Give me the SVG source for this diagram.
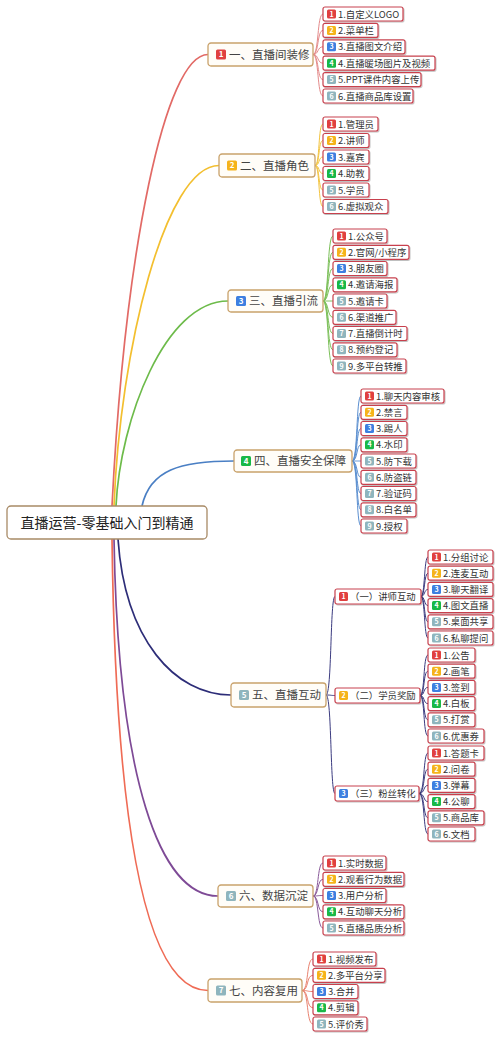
<svg xmlns="http://www.w3.org/2000/svg" width="500" height="1038" viewBox="0 0 500 1038">
<defs>
<filter id="sh" x="-10%" y="-20%" width="120%" height="150%"><feDropShadow dx="0.8" dy="1" stdDeviation="0.7" flood-color="#000" flood-opacity="0.25"/></filter>
</defs>
<style>
text{font-family:"Noto Sans CJK SC","Noto Sans",sans-serif}
.lb{fill:#fff;stroke:#c8414e;stroke-width:1.2;filter:url(#sh)}
.sb{fill:#fffdf8;stroke:#c9a26b;stroke-width:1.3}
.rb{fill:#fff;stroke:#a88a66;stroke-width:1.3}
.t{font-size:9.4px;fill:#333}
.st{font-size:11.5px;fill:#444}
.rt{font-size:14px;fill:#222;text-anchor:middle}
.n{font-size:7px;fill:#fff;text-anchor:middle;font-weight:bold}
.sn{font-size:8px;fill:#fff;text-anchor:middle;font-weight:bold}
.k1{fill:#e0403f}.k2{fill:#f5b31a}.k3{fill:#3d7fe0}.k4{fill:#19b847}.k5{fill:#8fb5bd}
path{fill:none}
.r1{stroke:#e26a66;stroke-width:1.7}.f1{stroke:#e48a8a;stroke-width:1}
.r2{stroke:#f3bf2f;stroke-width:1.7}.f2{stroke:#f3c440;stroke-width:1}
.r3{stroke:#6dbb4a;stroke-width:1.7}.f3{stroke:#7cc05a;stroke-width:1}
.r4{stroke:#4a7fc4;stroke-width:1.7}.f4{stroke:#5b8fd0;stroke-width:1}
.r5{stroke:#2d2d78;stroke-width:1.7}.f5{stroke:#3b3b80;stroke-width:1}
.r6{stroke:#7e4a96;stroke-width:1.7}.f6{stroke:#8a5a9a;stroke-width:1}
.r7{stroke:#ef6b55;stroke-width:1.7}.f7{stroke:#e9826f;stroke-width:1}
</style>
<rect width="500" height="1038" fill="#fff"/>
<g id="connectors">
<path class="r1" d="M112 506 C125 250 165 54.5 208 54.5"/>
<path class="r2" d="M114 506 C120 350 165 165.5 219 165.5"/>
<path class="r3" d="M116 506 C120 420 165 301 228 301"/>
<path class="r4" d="M142 506 C150 470 180 461 234 461"/>
<path class="r5" d="M118 539 C125 640 175 695 231 695"/>
<path class="r6" d="M114 539 C118 780 160 896 218 896"/>
<path class="r7" d="M112 539 C116 850 150 990.5 208 990.5"/>
<g class="f1">
<path d="M313 54.5 C319 54.5 317 14 323 14"/><path d="M313 54.5 C319 54.5 317 30.4 323 30.4"/><path d="M313 54.5 C319 54.5 317 46.8 323 46.8"/><path d="M313 54.5 C319 54.5 317 63.2 323 63.2"/><path d="M313 54.5 C319 54.5 317 79.6 323 79.6"/><path d="M313 54.5 C319 54.5 317 96 323 96"/>
</g>
<g class="f2">
<path d="M315 165.5 C320 165.5 318 124 323 124"/><path d="M315 165.5 C320 165.5 318 140.5 323 140.5"/><path d="M315 165.5 C320 165.5 318 157 323 157"/><path d="M315 165.5 C320 165.5 318 173.5 323 173.5"/><path d="M315 165.5 C320 165.5 318 190 323 190"/><path d="M315 165.5 C320 165.5 318 206.5 323 206.5"/>
</g>
<g class="f3">
<path d="M323 301 C329 301 327 236 333 236"/><path d="M323 301 C329 301 327 252.3 333 252.3"/><path d="M323 301 C329 301 327 268.5 333 268.5"/><path d="M323 301 C329 301 327 284.8 333 284.8"/><path d="M323 301 C329 301 327 301 333 301"/><path d="M323 301 C329 301 327 317.3 333 317.3"/><path d="M323 301 C329 301 327 333.5 333 333.5"/><path d="M323 301 C329 301 327 349.8 333 349.8"/><path d="M323 301 C329 301 327 366 333 366"/>
</g>
<g class="f4">
<path d="M352 461 C358 461 356 396 361 396"/><path d="M352 461 C358 461 356 412.3 361 412.3"/><path d="M352 461 C358 461 356 428.5 361 428.5"/><path d="M352 461 C358 461 356 444.8 361 444.8"/><path d="M352 461 C358 461 356 461 361 461"/><path d="M352 461 C358 461 356 477.3 361 477.3"/><path d="M352 461 C358 461 356 493.5 361 493.5"/><path d="M352 461 C358 461 356 509.8 361 509.8"/><path d="M352 461 C358 461 356 526 361 526"/>
</g>
<g class="f5">
<path d="M326 695 C332 695 330 596.5 335 596.5"/><path d="M326 695 C332 695 330 695.5 335 695.5"/><path d="M326 695 C332 695 330 793.5 335 793.5"/>
<path d="M421 596.5 C425 596.5 424 557 428 557"/><path d="M421 596.5 C425 596.5 424 573.2 428 573.2"/><path d="M421 596.5 C425 596.5 424 589.4 428 589.4"/><path d="M421 596.5 C425 596.5 424 605.6 428 605.6"/><path d="M421 596.5 C425 596.5 424 621.8 428 621.8"/><path d="M421 596.5 C425 596.5 424 638 428 638"/>
<path d="M420 695.5 C425 695.5 423 655 428 655"/><path d="M420 695.5 C425 695.5 423 671.2 428 671.2"/><path d="M420 695.5 C425 695.5 423 687.4 428 687.4"/><path d="M420 695.5 C425 695.5 423 703.6 428 703.6"/><path d="M420 695.5 C425 695.5 423 719.8 428 719.8"/><path d="M420 695.5 C425 695.5 423 736 428 736"/>
<path d="M419 793.5 C425 793.5 423 753 428 753"/><path d="M419 793.5 C425 793.5 423 769.2 428 769.2"/><path d="M419 793.5 C425 793.5 423 785.4 428 785.4"/><path d="M419 793.5 C425 793.5 423 801.6 428 801.6"/><path d="M419 793.5 C425 793.5 423 817.8 428 817.8"/><path d="M419 793.5 C425 793.5 423 834 428 834"/>
</g>
<g class="f6">
<path d="M313 896 C319 896 317 863 323 863"/><path d="M313 896 C319 896 317 879.3 323 879.3"/><path d="M313 896 C319 896 317 895.5 323 895.5"/><path d="M313 896 C319 896 317 911.8 323 911.8"/><path d="M313 896 C319 896 317 928 323 928"/>
</g>
<g class="f7">
<path d="M302 990.5 C309 990.5 306 959 313 959"/><path d="M302 990.5 C309 990.5 306 975.3 313 975.3"/><path d="M302 990.5 C309 990.5 306 991.5 313 991.5"/><path d="M302 990.5 C309 990.5 306 1007.8 313 1007.8"/><path d="M302 990.5 C309 990.5 306 1024 313 1024"/>
</g>
</g>
<g id="root"><rect class="rb" x="7" y="506" width="200" height="33" rx="4"/><text class="rt" x="107" y="527.5">直播运营-零基础入门到精通</text></g>
<g id="s1" transform="translate(208,43)"><rect class="sb" width="105" height="23" rx="3"/><rect class="k1" x="8" y="6.5" width="10" height="10" rx="1.5"/><text class="sn" x="13" y="14.3">1</text><text class="st" x="21" y="15.5">一、直播间装修</text></g>
<g id="s2" transform="translate(219,154)"><rect class="sb" width="96" height="23" rx="3"/><rect class="k2" x="8" y="6.5" width="10" height="10" rx="1.5"/><text class="sn" x="13" y="14.3">2</text><text class="st" x="21" y="15.5">二、直播角色</text></g>
<g id="s3" transform="translate(228,290)"><rect class="sb" width="95" height="22" rx="3"/><rect class="k3" x="8" y="6" width="10" height="10" rx="1.5"/><text class="sn" x="13" y="13.8">3</text><text class="st" x="21" y="15">三、直播引流</text></g>
<g id="s4" transform="translate(234,450)"><rect class="sb" width="118" height="22" rx="3"/><rect class="k4" x="7" y="6" width="10" height="10" rx="1.5"/><text class="sn" x="12" y="13.8">4</text><text class="st" x="20" y="15">四、直播安全保障</text></g>
<g id="s5" transform="translate(231,683)"><rect class="sb" width="95" height="24" rx="3"/><rect class="k5" x="8" y="7" width="10" height="10" rx="1.5"/><text class="sn" x="13" y="14.8">5</text><text class="st" x="21" y="16">五、直播互动</text></g>
<g id="s6" transform="translate(218,885)"><rect class="sb" width="95" height="22" rx="3"/><rect class="k5" x="8" y="6" width="10" height="10" rx="1.5"/><text class="sn" x="13" y="13.8">6</text><text class="st" x="21" y="15">六、数据沉淀</text></g>
<g id="s7" transform="translate(208,979)"><rect class="sb" width="94" height="23" rx="3"/><rect class="k5" x="8" y="6.5" width="10" height="10" rx="1.5"/><text class="sn" x="13" y="14.3">7</text><text class="st" x="21" y="15.5">七、内容复用</text></g>
<g id="s5-1" transform="translate(335,589)"><rect class="lb" width="86" height="15" rx="2"/><rect class="k1" x="4" y="3" width="9" height="9" rx="1.5"/><text class="n" x="8.5" y="10.2">1</text><text class="t" x="15" y="11.2">（一）讲师互动</text></g>
<g id="s5-2" transform="translate(335,688)"><rect class="lb" width="85" height="15" rx="2"/><rect class="k2" x="4" y="3" width="9" height="9" rx="1.5"/><text class="n" x="8.5" y="10.2">2</text><text class="t" x="15" y="11.2">（二）学员奖励</text></g>
<g id="s5-3" transform="translate(335,786)"><rect class="lb" width="84" height="15" rx="2"/><rect class="k3" x="4" y="3" width="9" height="9" rx="1.5"/><text class="n" x="8.5" y="10.2">3</text><text class="t" x="15" y="11.2">（三）粉丝转化</text></g>
<g id="l1-1" transform="translate(323,7)"><rect class="lb" width="80" height="14" rx="2"/><rect class="k1" x="4" y="2.5" width="9" height="9" rx="1.5"/><text class="n" x="8.5" y="9.6">1</text><text class="t" x="15" y="10.5">1.自定义LOGO</text></g>
<g id="l1-2" transform="translate(323,23.4)"><rect class="lb" width="55" height="14" rx="2"/><rect class="k2" x="4" y="2.5" width="9" height="9" rx="1.5"/><text class="n" x="8.5" y="9.6">2</text><text class="t" x="15" y="10.5">2.菜单栏</text></g>
<g id="l1-3" transform="translate(323,39.8)"><rect class="lb" width="82" height="14" rx="2"/><rect class="k3" x="4" y="2.5" width="9" height="9" rx="1.5"/><text class="n" x="8.5" y="9.6">3</text><text class="t" x="15" y="10.5">3.直播图文介绍</text></g>
<g id="l1-4" transform="translate(323,56.2)"><rect class="lb" width="112" height="14" rx="2"/><rect class="k4" x="4" y="2.5" width="9" height="9" rx="1.5"/><text class="n" x="8.5" y="9.6">4</text><text class="t" x="15" y="10.5">4.直播暖场图片及视频</text></g>
<g id="l1-5" transform="translate(323,72.6)"><rect class="lb" width="98" height="14" rx="2"/><rect class="k5" x="4" y="2.5" width="9" height="9" rx="1.5"/><text class="n" x="8.5" y="9.6">5</text><text class="t" x="15" y="10.5">5.PPT课件内容上传</text></g>
<g id="l1-6" transform="translate(323,89)"><rect class="lb" width="90" height="14" rx="2"/><rect class="k5" x="4" y="2.5" width="9" height="9" rx="1.5"/><text class="n" x="8.5" y="9.6">6</text><text class="t" x="15" y="10.5">6.直播商品库设置</text></g>
<g id="l2-1" transform="translate(323,117)"><rect class="lb" width="55" height="14" rx="2"/><rect class="k1" x="4" y="2.5" width="9" height="9" rx="1.5"/><text class="n" x="8.5" y="9.6">1</text><text class="t" x="15" y="10.5">1.管理员</text></g>
<g id="l2-2" transform="translate(323,133.5)"><rect class="lb" width="46" height="14" rx="2"/><rect class="k2" x="4" y="2.5" width="9" height="9" rx="1.5"/><text class="n" x="8.5" y="9.6">2</text><text class="t" x="15" y="10.5">2.讲师</text></g>
<g id="l2-3" transform="translate(323,150)"><rect class="lb" width="46" height="14" rx="2"/><rect class="k3" x="4" y="2.5" width="9" height="9" rx="1.5"/><text class="n" x="8.5" y="9.6">3</text><text class="t" x="15" y="10.5">3.嘉宾</text></g>
<g id="l2-4" transform="translate(323,166.5)"><rect class="lb" width="46" height="14" rx="2"/><rect class="k4" x="4" y="2.5" width="9" height="9" rx="1.5"/><text class="n" x="8.5" y="9.6">4</text><text class="t" x="15" y="10.5">4.助教</text></g>
<g id="l2-5" transform="translate(323,183)"><rect class="lb" width="46" height="14" rx="2"/><rect class="k5" x="4" y="2.5" width="9" height="9" rx="1.5"/><text class="n" x="8.5" y="9.6">5</text><text class="t" x="15" y="10.5">5.学员</text></g>
<g id="l2-6" transform="translate(323,199.5)"><rect class="lb" width="65" height="14" rx="2"/><rect class="k5" x="4" y="2.5" width="9" height="9" rx="1.5"/><text class="n" x="8.5" y="9.6">6</text><text class="t" x="15" y="10.5">6.虚拟观众</text></g>
<g id="l3-1" transform="translate(333,229)"><rect class="lb" width="54" height="14" rx="2"/><rect class="k1" x="4" y="2.5" width="9" height="9" rx="1.5"/><text class="n" x="8.5" y="9.6">1</text><text class="t" x="15" y="10.5">1.公众号</text></g>
<g id="l3-2" transform="translate(333,245.3)"><rect class="lb" width="76" height="14" rx="2"/><rect class="k2" x="4" y="2.5" width="9" height="9" rx="1.5"/><text class="n" x="8.5" y="9.6">2</text><text class="t" x="15" y="10.5">2.官网/小程序</text></g>
<g id="l3-3" transform="translate(333,261.5)"><rect class="lb" width="54" height="14" rx="2"/><rect class="k3" x="4" y="2.5" width="9" height="9" rx="1.5"/><text class="n" x="8.5" y="9.6">3</text><text class="t" x="15" y="10.5">3.朋友圈</text></g>
<g id="l3-4" transform="translate(333,277.8)"><rect class="lb" width="64" height="14" rx="2"/><rect class="k4" x="4" y="2.5" width="9" height="9" rx="1.5"/><text class="n" x="8.5" y="9.6">4</text><text class="t" x="15" y="10.5">4.邀请海报</text></g>
<g id="l3-5" transform="translate(333,294)"><rect class="lb" width="54" height="14" rx="2"/><rect class="k5" x="4" y="2.5" width="9" height="9" rx="1.5"/><text class="n" x="8.5" y="9.6">5</text><text class="t" x="15" y="10.5">5.邀请卡</text></g>
<g id="l3-6" transform="translate(333,310.3)"><rect class="lb" width="63" height="14" rx="2"/><rect class="k5" x="4" y="2.5" width="9" height="9" rx="1.5"/><text class="n" x="8.5" y="9.6">6</text><text class="t" x="15" y="10.5">6.渠道推广</text></g>
<g id="l3-7" transform="translate(333,326.5)"><rect class="lb" width="74" height="14" rx="2"/><rect class="k5" x="4" y="2.5" width="9" height="9" rx="1.5"/><text class="n" x="8.5" y="9.6">7</text><text class="t" x="15" y="10.5">7.直播倒计时</text></g>
<g id="l3-8" transform="translate(333,342.8)"><rect class="lb" width="64" height="14" rx="2"/><rect class="k5" x="4" y="2.5" width="9" height="9" rx="1.5"/><text class="n" x="8.5" y="9.6">8</text><text class="t" x="15" y="10.5">8.预约登记</text></g>
<g id="l3-9" transform="translate(333,359)"><rect class="lb" width="73" height="14" rx="2"/><rect class="k5" x="4" y="2.5" width="9" height="9" rx="1.5"/><text class="n" x="8.5" y="9.6">9</text><text class="t" x="15" y="10.5">9.多平台转推</text></g>
<g id="l4-1" transform="translate(361,389)"><rect class="lb" width="83" height="14" rx="2"/><rect class="k1" x="4" y="2.5" width="9" height="9" rx="1.5"/><text class="n" x="8.5" y="9.6">1</text><text class="t" x="15" y="10.5">1.聊天内容审核</text></g>
<g id="l4-2" transform="translate(361,405.3)"><rect class="lb" width="46" height="14" rx="2"/><rect class="k2" x="4" y="2.5" width="9" height="9" rx="1.5"/><text class="n" x="8.5" y="9.6">2</text><text class="t" x="15" y="10.5">2.禁言</text></g>
<g id="l4-3" transform="translate(361,421.5)"><rect class="lb" width="46" height="14" rx="2"/><rect class="k3" x="4" y="2.5" width="9" height="9" rx="1.5"/><text class="n" x="8.5" y="9.6">3</text><text class="t" x="15" y="10.5">3.踢人</text></g>
<g id="l4-4" transform="translate(361,437.8)"><rect class="lb" width="46" height="14" rx="2"/><rect class="k4" x="4" y="2.5" width="9" height="9" rx="1.5"/><text class="n" x="8.5" y="9.6">4</text><text class="t" x="15" y="10.5">4.水印</text></g>
<g id="l4-5" transform="translate(361,454)"><rect class="lb" width="55" height="14" rx="2"/><rect class="k5" x="4" y="2.5" width="9" height="9" rx="1.5"/><text class="n" x="8.5" y="9.6">5</text><text class="t" x="15" y="10.5">5.防下载</text></g>
<g id="l4-6" transform="translate(361,470.3)"><rect class="lb" width="55" height="14" rx="2"/><rect class="k5" x="4" y="2.5" width="9" height="9" rx="1.5"/><text class="n" x="8.5" y="9.6">6</text><text class="t" x="15" y="10.5">6.防盗链</text></g>
<g id="l4-7" transform="translate(361,486.5)"><rect class="lb" width="55" height="14" rx="2"/><rect class="k5" x="4" y="2.5" width="9" height="9" rx="1.5"/><text class="n" x="8.5" y="9.6">7</text><text class="t" x="15" y="10.5">7.验证码</text></g>
<g id="l4-8" transform="translate(361,502.8)"><rect class="lb" width="55" height="14" rx="2"/><rect class="k5" x="4" y="2.5" width="9" height="9" rx="1.5"/><text class="n" x="8.5" y="9.6">8</text><text class="t" x="15" y="10.5">8.白名单</text></g>
<g id="l4-9" transform="translate(361,519)"><rect class="lb" width="46" height="14" rx="2"/><rect class="k5" x="4" y="2.5" width="9" height="9" rx="1.5"/><text class="n" x="8.5" y="9.6">9</text><text class="t" x="15" y="10.5">9.授权</text></g>
<g id="l51-1" transform="translate(428,550)"><rect class="lb" width="65" height="14" rx="2"/><rect class="k1" x="4" y="2.5" width="9" height="9" rx="1.5"/><text class="n" x="8.5" y="9.6">1</text><text class="t" x="15" y="10.5">1.分组讨论</text></g>
<g id="l51-2" transform="translate(428,566.2)"><rect class="lb" width="65" height="14" rx="2"/><rect class="k2" x="4" y="2.5" width="9" height="9" rx="1.5"/><text class="n" x="8.5" y="9.6">2</text><text class="t" x="15" y="10.5">2.连麦互动</text></g>
<g id="l51-3" transform="translate(428,582.4)"><rect class="lb" width="65" height="14" rx="2"/><rect class="k3" x="4" y="2.5" width="9" height="9" rx="1.5"/><text class="n" x="8.5" y="9.6">3</text><text class="t" x="15" y="10.5">3.聊天翻译</text></g>
<g id="l51-4" transform="translate(428,598.6)"><rect class="lb" width="65" height="14" rx="2"/><rect class="k4" x="4" y="2.5" width="9" height="9" rx="1.5"/><text class="n" x="8.5" y="9.6">4</text><text class="t" x="15" y="10.5">4.图文直播</text></g>
<g id="l51-5" transform="translate(428,614.8)"><rect class="lb" width="65" height="14" rx="2"/><rect class="k5" x="4" y="2.5" width="9" height="9" rx="1.5"/><text class="n" x="8.5" y="9.6">5</text><text class="t" x="15" y="10.5">5.桌面共享</text></g>
<g id="l51-6" transform="translate(428,631)"><rect class="lb" width="65" height="14" rx="2"/><rect class="k5" x="4" y="2.5" width="9" height="9" rx="1.5"/><text class="n" x="8.5" y="9.6">6</text><text class="t" x="15" y="10.5">6.私聊提问</text></g>
<g id="l52-1" transform="translate(428,648)"><rect class="lb" width="47" height="14" rx="2"/><rect class="k1" x="4" y="2.5" width="9" height="9" rx="1.5"/><text class="n" x="8.5" y="9.6">1</text><text class="t" x="15" y="10.5">1.公告</text></g>
<g id="l52-2" transform="translate(428,664.2)"><rect class="lb" width="47" height="14" rx="2"/><rect class="k2" x="4" y="2.5" width="9" height="9" rx="1.5"/><text class="n" x="8.5" y="9.6">2</text><text class="t" x="15" y="10.5">2.画笔</text></g>
<g id="l52-3" transform="translate(428,680.4)"><rect class="lb" width="47" height="14" rx="2"/><rect class="k3" x="4" y="2.5" width="9" height="9" rx="1.5"/><text class="n" x="8.5" y="9.6">3</text><text class="t" x="15" y="10.5">3.签到</text></g>
<g id="l52-4" transform="translate(428,696.6)"><rect class="lb" width="47" height="14" rx="2"/><rect class="k4" x="4" y="2.5" width="9" height="9" rx="1.5"/><text class="n" x="8.5" y="9.6">4</text><text class="t" x="15" y="10.5">4.白板</text></g>
<g id="l52-5" transform="translate(428,712.8)"><rect class="lb" width="47" height="14" rx="2"/><rect class="k5" x="4" y="2.5" width="9" height="9" rx="1.5"/><text class="n" x="8.5" y="9.6">5</text><text class="t" x="15" y="10.5">5.打赏</text></g>
<g id="l52-6" transform="translate(428,729)"><rect class="lb" width="56" height="14" rx="2"/><rect class="k5" x="4" y="2.5" width="9" height="9" rx="1.5"/><text class="n" x="8.5" y="9.6">6</text><text class="t" x="15" y="10.5">6.优惠券</text></g>
<g id="l53-1" transform="translate(428,746)"><rect class="lb" width="56" height="14" rx="2"/><rect class="k1" x="4" y="2.5" width="9" height="9" rx="1.5"/><text class="n" x="8.5" y="9.6">1</text><text class="t" x="15" y="10.5">1.答题卡</text></g>
<g id="l53-2" transform="translate(428,762.2)"><rect class="lb" width="47" height="14" rx="2"/><rect class="k2" x="4" y="2.5" width="9" height="9" rx="1.5"/><text class="n" x="8.5" y="9.6">2</text><text class="t" x="15" y="10.5">2.问卷</text></g>
<g id="l53-3" transform="translate(428,778.4)"><rect class="lb" width="47" height="14" rx="2"/><rect class="k3" x="4" y="2.5" width="9" height="9" rx="1.5"/><text class="n" x="8.5" y="9.6">3</text><text class="t" x="15" y="10.5">3.弹幕</text></g>
<g id="l53-4" transform="translate(428,794.6)"><rect class="lb" width="47" height="14" rx="2"/><rect class="k4" x="4" y="2.5" width="9" height="9" rx="1.5"/><text class="n" x="8.5" y="9.6">4</text><text class="t" x="15" y="10.5">4.公聊</text></g>
<g id="l53-5" transform="translate(428,810.8)"><rect class="lb" width="56" height="14" rx="2"/><rect class="k5" x="4" y="2.5" width="9" height="9" rx="1.5"/><text class="n" x="8.5" y="9.6">5</text><text class="t" x="15" y="10.5">5.商品库</text></g>
<g id="l53-6" transform="translate(428,827)"><rect class="lb" width="47" height="14" rx="2"/><rect class="k5" x="4" y="2.5" width="9" height="9" rx="1.5"/><text class="n" x="8.5" y="9.6">6</text><text class="t" x="15" y="10.5">6.文档</text></g>
<g id="l6-1" transform="translate(323,856)"><rect class="lb" width="63" height="14" rx="2"/><rect class="k1" x="4" y="2.5" width="9" height="9" rx="1.5"/><text class="n" x="8.5" y="9.6">1</text><text class="t" x="15" y="10.5">1.实时数据</text></g>
<g id="l6-2" transform="translate(323,872.3)"><rect class="lb" width="81" height="14" rx="2"/><rect class="k2" x="4" y="2.5" width="9" height="9" rx="1.5"/><text class="n" x="8.5" y="9.6">2</text><text class="t" x="15" y="10.5">2.观看行为数据</text></g>
<g id="l6-3" transform="translate(323,888.5)"><rect class="lb" width="63" height="14" rx="2"/><rect class="k3" x="4" y="2.5" width="9" height="9" rx="1.5"/><text class="n" x="8.5" y="9.6">3</text><text class="t" x="15" y="10.5">3.用户分析</text></g>
<g id="l6-4" transform="translate(323,904.8)"><rect class="lb" width="81" height="14" rx="2"/><rect class="k4" x="4" y="2.5" width="9" height="9" rx="1.5"/><text class="n" x="8.5" y="9.6">4</text><text class="t" x="15" y="10.5">4.互动聊天分析</text></g>
<g id="l6-5" transform="translate(323,921)"><rect class="lb" width="81" height="14" rx="2"/><rect class="k5" x="4" y="2.5" width="9" height="9" rx="1.5"/><text class="n" x="8.5" y="9.6">5</text><text class="t" x="15" y="10.5">5.直播品质分析</text></g>
<g id="l7-1" transform="translate(313,952)"><rect class="lb" width="63" height="14" rx="2"/><rect class="k1" x="4" y="2.5" width="9" height="9" rx="1.5"/><text class="n" x="8.5" y="9.6">1</text><text class="t" x="15" y="10.5">1.视频发布</text></g>
<g id="l7-2" transform="translate(313,968.3)"><rect class="lb" width="72" height="14" rx="2"/><rect class="k2" x="4" y="2.5" width="9" height="9" rx="1.5"/><text class="n" x="8.5" y="9.6">2</text><text class="t" x="15" y="10.5">2.多平台分享</text></g>
<g id="l7-3" transform="translate(313,984.5)"><rect class="lb" width="45" height="14" rx="2"/><rect class="k3" x="4" y="2.5" width="9" height="9" rx="1.5"/><text class="n" x="8.5" y="9.6">3</text><text class="t" x="15" y="10.5">3.合并</text></g>
<g id="l7-4" transform="translate(313,1000.8)"><rect class="lb" width="45" height="14" rx="2"/><rect class="k4" x="4" y="2.5" width="9" height="9" rx="1.5"/><text class="n" x="8.5" y="9.6">4</text><text class="t" x="15" y="10.5">4.剪辑</text></g>
<g id="l7-5" transform="translate(313,1017)"><rect class="lb" width="54" height="14" rx="2"/><rect class="k5" x="4" y="2.5" width="9" height="9" rx="1.5"/><text class="n" x="8.5" y="9.6">5</text><text class="t" x="15" y="10.5">5.评价秀</text></g>
</svg>
